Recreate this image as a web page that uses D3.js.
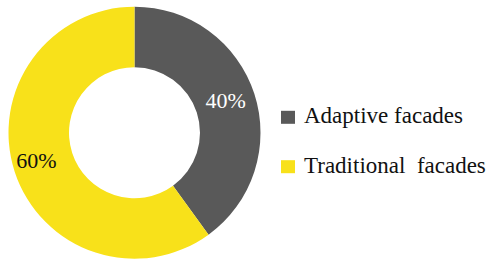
<!DOCTYPE html>
<html>
<head>
<meta charset="utf-8">
<script src="https://cdn.jsdelivr.net/npm/d3@7"></script>
<style>
  body { margin: 0; background: #fff; }
  #chart { width: 493px; height: 259px; }
  text { font-family: "Liberation Serif", serif; white-space: pre; }
</style>
</head>
<body>
<div id="chart"></div>
<script>
const categories = ["Adaptive facades", "Traditional  facades"];
const values = [40, 60];
const colors = ["#595959", "#f8e11a"];
const labelColors = ["#ffffff", "#111111"];
// small label nudges (px) to match the original placement
const labelShiftX = [0, -7];

const width = 493;
const height = 259;

const svg = d3.select("#chart")
  .append("svg")
  .attr("width", width)
  .attr("height", height);

const cx = 134.5, cy = 132.7;
const outerR = 126, innerR = 65.5;

const pie = d3.pie().sort(null).value(function (d) { return d; });
const arc = d3.arc().innerRadius(innerR).outerRadius(outerR);

const g = svg.append("g")
  .attr("transform", `translate(${cx},${cy})`);

const arcs = pie(values);

g.selectAll("path")
  .data(arcs)
  .enter()
  .append("path")
  .attr("d", arc)
  .attr("fill", function (d, i) { return colors[i]; });

g.selectAll("text.pct")
  .data(arcs)
  .enter()
  .append("text")
  .attr("class", "pct")
  .attr("transform", function (d, i) {
    const c = arc.centroid(d);
    return `translate(${c[0] + labelShiftX[i]},${c[1]})`;
  })
  .attr("text-anchor", "middle")
  .attr("dy", "0.24em")
  .attr("font-size", 22)
  .attr("fill", function (d, i) { return labelColors[i]; })
  .text(function (d) { return d.data + "%"; });

/* legend */
const legend = svg.append("g")
  .attr("transform", "translate(281,0)");

const item = legend.selectAll("g")
  .data(categories)
  .enter()
  .append("g")
  .attr("transform", function (d, i) { return `translate(0,${123.3 + i * 49.4})`; });

item.append("rect")
  .attr("x", 0)
  .attr("y", -12.5)
  .attr("width", 14)
  .attr("height", 13)
  .attr("fill", function (d, i) { return colors[i]; });

item.append("text")
  .attr("x", 23)
  .attr("y", 0)
  .attr("font-size", 23)
  .attr("fill", "#111")
  .text(function (d) { return d; });
</script>
</body>
</html>
